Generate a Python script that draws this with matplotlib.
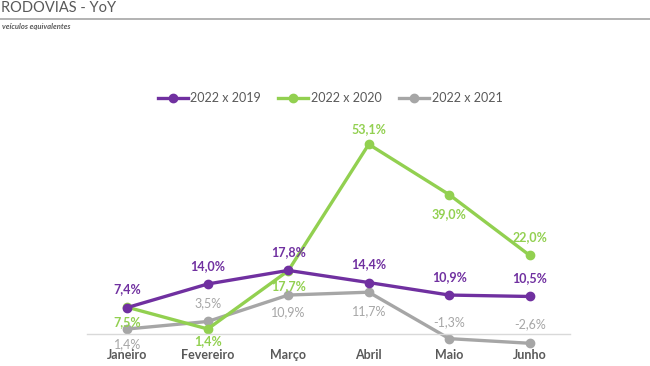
import matplotlib.pyplot as plt
from matplotlib.lines import Line2D

plt.rcParams['font.family'] = ['Lato', 'DejaVu Sans']

meses = ['Janeiro', 'Fevereiro', 'Março', 'Abril', 'Maio', 'Junho']
v2019 = [7.4, 14.0, 17.8, 14.4, 10.9, 10.5]
v2020 = [7.5, 1.4, 17.7, 53.1, 39.0, 22.0]
v2021 = [1.4, 3.5, 10.9, 11.7, -1.3, -2.6]

roxo = '#7030A0'
verde = '#92D050'
cinza = '#A6A6A6'
texto = '#595959'

# deslocamento vertical dos rótulos (pontos)
off2019 = [13, 13, 13, 13, 13, 13]
off2020 = [-11, -9, -11, 11, -14, 13]
off2021 = [-11, 13, -12, -14, 12, 14]

fig = plt.figure(figsize=(6.5, 3.66), dpi=100)
ax = fig.add_axes([87/650, 6/366, 483/650, 250/366])

x = list(range(len(meses)))
series = [(v2019, roxo, '2022 x 2019', off2019, 'bold'),
          (v2020, verde, '2022 x 2020', off2020, 'bold'),
          (v2021, cinza, '2022 x 2021', off2021, 'normal')]

for vals, cor, nome, offs, peso in series[::-1]:
    ax.plot(x, vals, color=cor, lw=2.4, marker='o', ms=6, label=nome,
            solid_capstyle='round')
    for xi, v, o in zip(x, vals, offs):
        ax.annotate(f'{v:.1f}%'.replace('.', ','), (xi, v),
                    xytext=(0, o), textcoords='offset points',
                    ha='center', va='center', color=cor, fontsize=9,
                    fontweight=peso)

ax.set_xlim(-0.5, 5.5)
ax.set_ylim(-7.28, 62.7)
for s in ['top', 'right', 'left']:
    ax.spines[s].set_visible(False)
ax.spines['bottom'].set_position(('data', 0))
ax.spines['bottom'].set_color('#D9D9D9')
ax.spines['bottom'].set_linewidth(1)
ax.set_yticks([])
ax.set_xticks(x)
ax.set_xticklabels(meses, fontsize=9, fontweight='bold', color=texto)
ax.tick_params(axis='x', length=0, pad=11)

handles = [Line2D([0], [0], color=c, lw=2.4, marker='o', ms=6)
           for c in [roxo, verde, cinza]]
fig.legend(handles, ['2022 x 2019', '2022 x 2020', '2022 x 2021'],
           loc='center', bbox_to_anchor=(330/650, 1 - 98/366), ncol=3,
           frameon=False, fontsize=9, handlelength=2.4, columnspacing=1.4,
           handletextpad=0.2, labelcolor=texto)

fig.text(1/650, 1 - 1/366, 'RODOVIAS - YoY', fontsize=10.5, color=texto,
         va='top', ha='left')
fig.add_artist(Line2D([0, 1], [1 - 18.5/366] * 2, color='#A6A6A6', lw=1.2,
                      transform=fig.transFigure))
fig.text(2/650, 1 - 27/366, 'veículos equivalentes', fontsize=5.5,
         color=texto, style='italic', fontweight='bold', va='center')

fig.savefig('out.png', dpi=100)
